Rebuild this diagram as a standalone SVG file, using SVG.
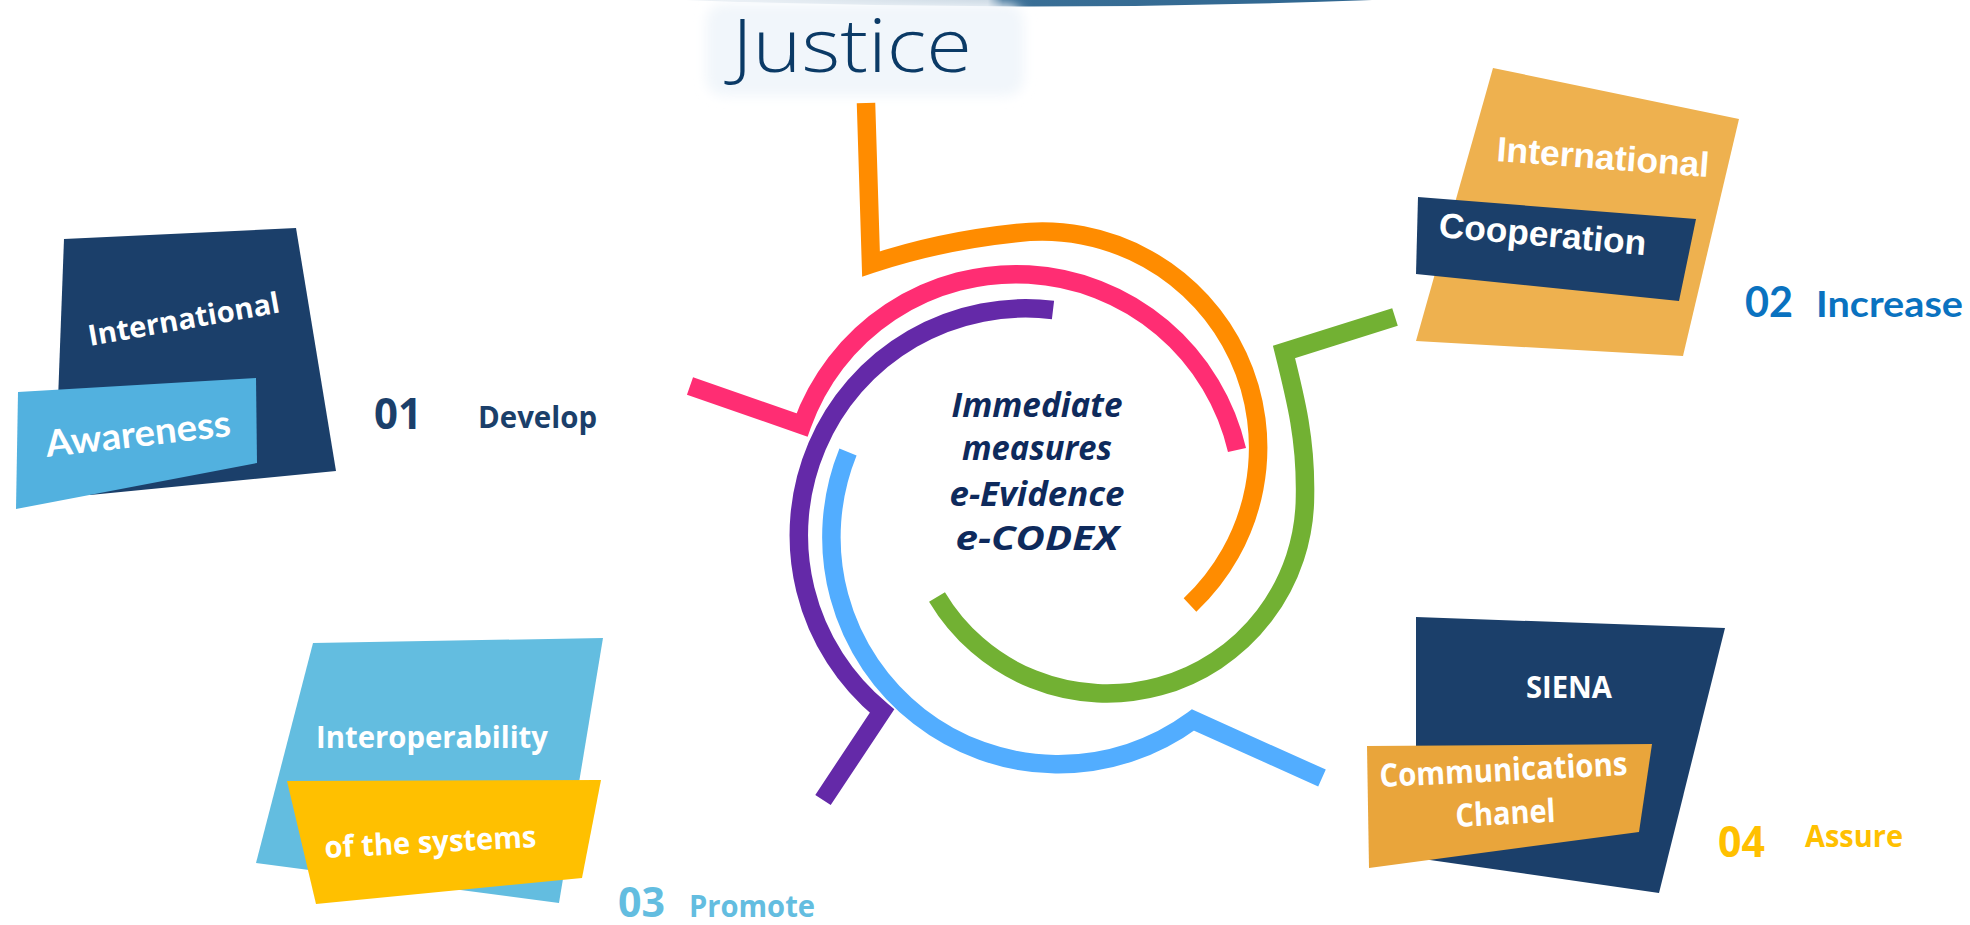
<svg xmlns="http://www.w3.org/2000/svg" width="1970" height="925" viewBox="0 0 1970 925">
<defs>
<style>
.arc{fill:none;stroke-width:18.5;stroke-linecap:butt;stroke-linejoin:miter}
.w{fill:#fff;font-family:"Open Sans","Liberation Sans",sans-serif;font-weight:700}
.wa{fill:#fff;font-family:"Liberation Sans",Arial,sans-serif;font-weight:700}
.wl{fill:#fff;font-family:"Lato","Open Sans",sans-serif;font-weight:700}
.num{font-family:"Open Sans","Liberation Sans",sans-serif;font-weight:700}
.numl{font-family:"Lato","Open Sans",sans-serif;font-weight:700}
.ctr{fill:#0e2a5c;font-family:"Open Sans","Liberation Sans",sans-serif;font-weight:700;font-style:italic;font-size:34px}
</style>
<linearGradient id="barg" gradientUnits="userSpaceOnUse" x1="686" y1="0" x2="1372" y2="0">
<stop offset="0" stop-color="#eef2f6"/>
<stop offset="0.44" stop-color="#c3d2de"/>
<stop offset="0.462" stop-color="#3a6f96"/>
<stop offset="1" stop-color="#2f6690"/>
</linearGradient>
<filter id="soft" x="-20%" y="-40%" width="140%" height="180%"><feGaussianBlur stdDeviation="6"/></filter>
</defs>
<rect width="1970" height="925" fill="#fff"/>

<g id="justice">
<path d="M686,0 L1372,0 Q1030,13 686,0 Z" fill="url(#barg)"/>
<rect x="706" y="4" width="318" height="92" rx="18" fill="#f1f6fb" filter="url(#soft)"/>
<text x="732" y="72" font-family="'Open Sans','Liberation Sans',sans-serif" font-weight="300" font-size="74" fill="#0b3a66" textLength="240" lengthAdjust="spacingAndGlyphs">Justice</text>
</g>

<g id="connectors">
<path class="arc" stroke="#ff8c00" d="M866,103 L871,264 Q940,241 1017,233 A216,216 0 0 1 1190,605"/>
<path class="arc" stroke="#ff2d73" d="M690,386 L802,425 A227,227 0 0 1 1237,450"/>
<path class="arc" stroke="#6429a8" d="M1053,310 A227,227 0 0 0 882,711 L823,800"/>
<path class="arc" stroke="#52adff" d="M848,452 A227,227 0 0 0 1193,720 L1322,778"/>
<path class="arc" stroke="#72b133" d="M1395,317 L1284,352 C1296,400 1306,440 1305,496 A198,198 0 0 1 937,597"/>
</g>

<g id="center">
<text class="ctr" x="1037" y="417" text-anchor="middle" textLength="171" lengthAdjust="spacingAndGlyphs">Immediate</text>
<text class="ctr" x="1037" y="460" text-anchor="middle" textLength="150" lengthAdjust="spacingAndGlyphs">measures</text>
<text class="ctr" x="1037" y="506" text-anchor="middle" textLength="175" lengthAdjust="spacingAndGlyphs">e-Evidence</text>
<text class="ctr" x="1037" y="550" text-anchor="middle" textLength="163" lengthAdjust="spacingAndGlyphs">e-CODEX</text>
</g>

<g id="node-01">
<polygon points="64,239 296,228 336,471 90,495 58,400" fill="#1b3f6a"/>
<polygon points="18,392 256,378 257,463 16,509" fill="#52b1df"/>
<text class="w" x="90" y="346" font-size="29" transform="rotate(-10 90 346)" textLength="194" lengthAdjust="spacingAndGlyphs">International</text>
<text class="wl" x="47" y="457" font-size="37" transform="rotate(-6.5 47 457)" textLength="186" lengthAdjust="spacingAndGlyphs">Awareness</text>
<text class="num" x="374" y="429" font-size="43" fill="#1b3f6a" textLength="48" lengthAdjust="spacingAndGlyphs">01</text>
<text class="num" x="478" y="428" font-size="30" fill="#1b3f6a" textLength="119" lengthAdjust="spacingAndGlyphs">Develop</text>
</g>

<g id="node-02">
<polygon points="1493,68 1739,119 1683,356 1416,341" fill="#eeb14f"/>
<polygon points="1418,197 1696,219 1679,301 1416,274" fill="#1b3f6a"/>
<text class="wa" x="1496" y="161" font-size="35" transform="rotate(4.3 1496 161)" textLength="213" lengthAdjust="spacingAndGlyphs">International</text>
<text class="wa" x="1438" y="237" font-size="35" transform="rotate(5 1438 237)" textLength="208" lengthAdjust="spacingAndGlyphs">Cooperation</text>
<text class="numl" x="1745" y="317" font-size="42" fill="#0a72c0" textLength="48" lengthAdjust="spacingAndGlyphs">02</text>
<text class="numl" x="1816" y="317" font-size="36" fill="#0a72c0" textLength="147" lengthAdjust="spacingAndGlyphs">Increase</text>
</g>

<g id="node-03">
<polygon points="313,643 603,638 559,903 256,863" fill="#63bde0"/>
<polygon points="287,781 601,780 582,878 316,904" fill="#ffc000"/>
<text class="w" x="316" y="748" font-size="31" textLength="232" lengthAdjust="spacingAndGlyphs">Interoperability</text>
<text class="w" x="325" y="858" font-size="30" transform="rotate(-3 325 858)" textLength="212" lengthAdjust="spacingAndGlyphs">of the systems</text>
<text class="num" x="618" y="917" font-size="42" fill="#63bde0" textLength="47" lengthAdjust="spacingAndGlyphs">03</text>
<text class="num" x="689" y="917" font-size="30" fill="#63bde0" textLength="126" lengthAdjust="spacingAndGlyphs">Promote</text>
</g>

<g id="node-04">
<polygon points="1416,617 1725,628 1659,893 1416,858" fill="#1b3f6a"/>
<polygon points="1367,746 1652,744 1639,832 1369,868" fill="#e9a53b"/>
<text class="w" x="1526" y="698" font-size="31" textLength="86" lengthAdjust="spacingAndGlyphs">SIENA</text>
<text class="w" x="1380" y="787" font-size="32" transform="rotate(-2.8 1380 787)" textLength="248" lengthAdjust="spacingAndGlyphs">Communications</text>
<text class="w" x="1456" y="827" font-size="32" transform="rotate(-3 1456 827)" textLength="100" lengthAdjust="spacingAndGlyphs">Chanel</text>
<text class="num" x="1718" y="857" font-size="43" fill="#ffc000" textLength="47" lengthAdjust="spacingAndGlyphs">04</text>
<text class="num" x="1805" y="847" font-size="31" fill="#ffc000" textLength="98" lengthAdjust="spacingAndGlyphs">Assure</text>
</g>
</svg>
